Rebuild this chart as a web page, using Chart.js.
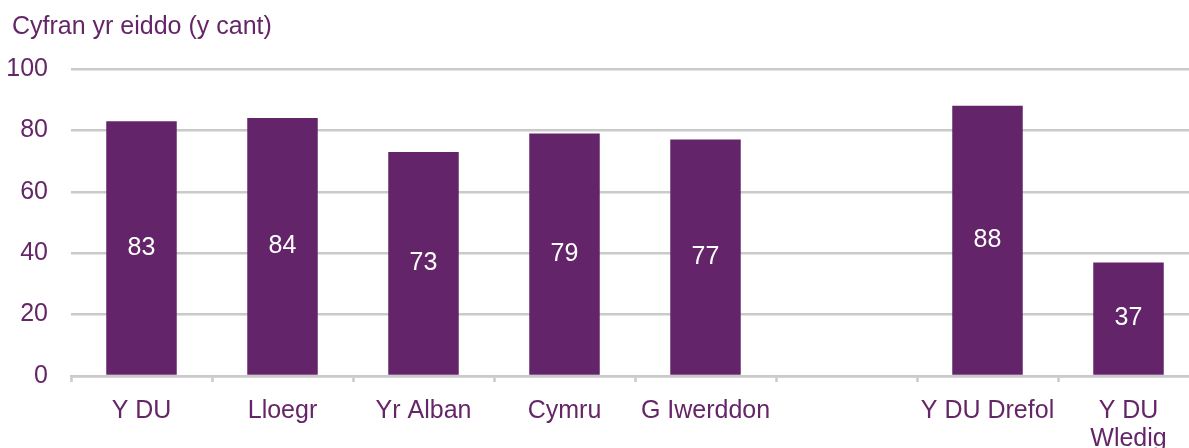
<!DOCTYPE html>
<html>
<head>
<meta charset="utf-8">
<script src="https://cdn.jsdelivr.net/npm/chart.js@4/dist/chart.umd.min.js"></script>
<style>
  html, body { margin: 0; padding: 0; background: #fff; overflow: hidden; }
  .wrap { position: relative; width: 1200px; height: 468px; }
</style>
</head>
<body>
<div class="wrap"><canvas id="propChart"></canvas></div>
<script>
  // data
  const categories = ['Y DU', 'Lloegr', 'Yr Alban', 'Cymru', 'G Iwerddon', '', 'Y DU Drefol', ['Y DU', 'Wledig']];
  const shares = [83, 84, 73, 79, 77, null, 88, 37];
  const yTicks = [0, 20, 40, 60, 80, 100];
  const titleText = 'Cyfran yr eiddo (y cant)';

  const purple = '#63246a';
  const textPurple = '#642667';
  const grey = '#cacaca';
  const fontFamily = "'Liberation Sans', Arial, sans-serif";
  const fontSize = 25;

  // axis title top-left + white numbers in the middle of each bar
  const barLabels = {
    id: 'barLabels',
    afterDatasetsDraw(chart) {
      const ctx = chart.ctx;
      const meta = chart.getDatasetMeta(0);
      ctx.save();
      ctx.font = fontSize + 'px ' + fontFamily;
      ctx.textBaseline = 'middle';

      ctx.fillStyle = textPurple;
      ctx.textAlign = 'left';
      ctx.fillText(titleText, 12, 27);

      ctx.fillStyle = '#ffffff';
      ctx.textAlign = 'center';
      meta.data.forEach(function (bar, i) {
        const v = shares[i];
        if (v === null) return;
        ctx.fillText(String(v), bar.x, (bar.y + bar.base) / 2);
      });
      ctx.restore();
    }
  };

  new Chart(document.getElementById('propChart'), {
    type: 'bar',
    data: {
      labels: categories,
      datasets: [{
        data: shares,
        backgroundColor: purple,
        borderWidth: 0,
        categoryPercentage: 1,
        barPercentage: 0.5
      }]
    },
    options: {
      responsive: true,
      maintainAspectRatio: false,
      animation: false,
      layout: { padding: { left: 0, right: 1, top: 69, bottom: 0 } },
      plugins: {
        legend: { display: false },
        tooltip: { enabled: false },
        title: { display: false }
      },
      scales: {
        x: {
          grid: {
            offset: true,
            drawOnChartArea: false,
            drawTicks: true,
            tickLength: 6,
            tickWidth: 2.5,
            color: grey
          },
          border: { display: true, color: grey, width: 2.5 },
          ticks: {
            color: textPurple,
            font: { family: fontFamily, size: fontSize, lineHeight: 1.12 },
            padding: 15,
            maxRotation: 0,
            autoSkip: false
          }
        },
        y: {
          min: 0,
          max: 100,
          afterBuildTicks(axis) {
            axis.ticks = yTicks.map(function (v) { return { value: v }; });
          },
          afterFit(axis) { axis.width = 71; },
          grid: { color: grey, lineWidth: 2.5, drawTicks: false },
          border: { display: false },
          ticks: { color: textPurple, font: { family: fontFamily, size: fontSize }, padding: 23 }
        }
      }
    },
    plugins: [barLabels]
  });
</script>
</body>
</html>
